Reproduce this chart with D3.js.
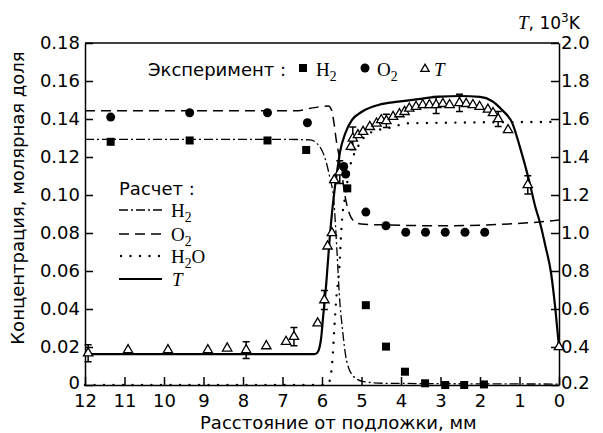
<!DOCTYPE html>
<html><head><meta charset="utf-8">
<script src="https://cdn.jsdelivr.net/npm/d3@7"></script>
<style>body{margin:0;background:#fff}svg{display:block}</style>
</head><body>
<svg id="c" width="603" height="433"></svg>
<script>
// ---- data ----
const xTicks = [12,11,10,9,8,7,6,5,4,3,2,1,0];
const yTicks = [0,0.02,0.04,0.06,0.08,0.10,0.12,0.14,0.16,0.18];
const yTickLabels = ["0","0.02","0.04","0.06","0.08","0.10","0.12","0.14","0.16","0.18"];
const tTicks = [0.2,0.4,0.6,0.8,1.0,1.2,1.4,1.6,1.8,2.0];
const tTickLabels = ["0.2","0.4","0.6","0.8","1.0","1.2","1.4","1.6","1.8","2.0"];

// calculated curves [mm, value]
const calcH2 = [[12,0.1293],[7.0,0.1293],[6.3,0.129],[6.1,0.1265],[5.95,0.121],[5.8,0.109],[5.7,0.097],[5.62,0.07],[5.56,0.047],[5.48,0.029],[5.38,0.013],[5.2,0.0045],[4.95,0.0018],[4.4,0.0009],[0,0.0005]];
const calcO2 = [[12,0.1444],[6.6,0.1444],[6.3,0.1456],[6.0,0.1466],[5.84,0.1468],[5.76,0.1448],[5.69,0.137],[5.64,0.129],[5.58,0.122],[5.52,0.115],[5.43,0.101],[5.31,0.0904],[5.18,0.086],[5.01,0.0847],[4.5,0.0843],[3.0,0.0838],[1.5,0.0845],[0.5,0.0858],[0,0.0868]];
const calcH2O = [[12,0],[5.9,0],[5.81,0.002],[5.73,0.015],[5.69,0.029],[5.64,0.045],[5.56,0.062],[5.52,0.078],[5.48,0.09],[5.43,0.097],[5.3,0.114],[5.1,0.125],[4.8,0.1325],[4.17,0.136],[3.88,0.1377],[3.0,0.138],[0,0.1385]];
const calcT = [[12,0.362],[6.2,0.362],[6.12,0.37],[6.06,0.40],[6.02,0.45],[5.98,0.54],[5.89,0.74],[5.81,0.96],[5.73,1.14],[5.68,1.23],[5.6,1.35],[5.54,1.43],[5.41,1.525],[5.24,1.595],[4.99,1.638],[4.57,1.674],[4.07,1.691],[3.56,1.705],[3.0,1.718],[2.5,1.721],[2.0,1.716],[1.7,1.695],[1.44,1.647],[1.18,1.577],[1.0,1.46],[0.76,1.279],[0.59,1.13],[0.5,1.068],[0.34,0.928],[0.2,0.788],[0.09,0.595],[0,0.4]];

// experiment [mm, value] / [mm, T, err]
const expH2 = [[11.35,0.128],[9.35,0.1287],[7.38,0.1287],[6.40,0.1237],[5.36,0.1035],[4.89,0.042],[4.38,0.0202],[3.90,0.007],[3.39,0.0009],[2.88,0],[2.40,0],[1.90,0.0003]];
const expO2 = [[11.35,0.141],[9.35,0.1433],[7.38,0.1433],[6.37,0.138],[5.45,0.115],[5.40,0.111],[4.89,0.091],[4.38,0.0838],[3.88,0.0804],[3.38,0.0804],[2.88,0.0804],[2.38,0.0804],[1.88,0.0804]];
const expT = [[11.92,0.367,0.045],[10.91,0.384,0],[9.90,0.384,0],[8.89,0.384,0],[8.40,0.393,0],[7.92,0.384,0.044],[7.41,0.405,0],[6.91,0.428,0],[6.71,0.454,0.048],[6.11,0.525,0],[5.94,0.647,0.05],[5.86,0.93,0],[5.75,1.0,0],[5.69,1.279,0],[5.55,1.32,0.06],[5.27,1.454,0],[5.22,1.498,0.06],[5.09,1.516,0],[4.96,1.533,0],[4.79,1.559,0],[4.62,1.577,0],[4.50,1.595,0],[4.37,1.59,0.035],[4.20,1.612,0],[4.04,1.626,0],[3.91,1.638,0],[3.79,1.656,0],[3.62,1.665,0],[3.45,1.674,0],[3.28,1.674,0],[3.11,1.674,0.045],[2.94,1.68,0],[2.77,1.674,0],[2.52,1.685,0.045],[2.35,1.68,0],[2.18,1.674,0],[2.01,1.665,0],[1.80,1.65,0],[1.67,1.632,0],[1.54,1.6,0.04],[1.29,1.542,0],[0.79,1.253,0.048],[0.0,0.4,0]];

// ---- drawing ----
const svg = d3.select("#c");
const L=85, R=559, T0=43, B=385;
const x = d3.scaleLinear().domain([12,0]).range([L,R]);
const y = d3.scaleLinear().domain([0,0.18]).range([B,T0]);
const yT = d3.scaleLinear().domain([0.2,2.0]).range([B,T0]);
const sans = "DejaVu Sans, Verdana, sans-serif";
const serif = "Liberation Serif, Times New Roman, serif";

// frame top line
svg.append("line").attr("x1",L).attr("x2",R).attr("y1",T0).attr("y2",T0).attr("stroke","#000").attr("stroke-width",1.5);

function styleAxis(g){
  g.select(".domain").attr("stroke-width",1.5);
  g.selectAll(".tick line").attr("stroke-width",1.5);
  g.selectAll(".tick text").attr("font-family",sans).attr("font-size",18).attr("fill","#000");
}
const gx = svg.append("g").attr("transform",`translate(0,${B})`)
  .call(d3.axisBottom(x).tickValues(xTicks).tickSizeInner(-8).tickSizeOuter(0).tickPadding(9).tickFormat(d3.format("d")));
styleAxis(gx);
const gy = svg.append("g").attr("transform",`translate(${L},0)`)
  .call(d3.axisLeft(y).tickValues(yTicks).tickSizeInner(-8).tickSizeOuter(0).tickPadding(5).tickFormat((d,i)=>yTickLabels[i]));
styleAxis(gy);
gy.selectAll(".tick text").filter(d=>d===0).attr("dy","0.2em");
const gr = svg.append("g").attr("transform",`translate(${R},0)`)
  .call(d3.axisRight(yT).tickValues(tTicks).tickSizeInner(-8).tickSizeOuter(0).tickPadding(3).tickFormat((d,i)=>tTickLabels[i]));
styleAxis(gr);
gr.selectAll(".tick text").attr("x",2);
gr.selectAll(".tick text").filter(d=>Math.abs(d-0.2)<1e-9).attr("dy","0.2em");

// curves
const lineC = d3.line().x(d=>x(d[0])).y(d=>y(d[1])).curve(d3.curveMonotoneX);
const lineT = d3.line().x(d=>x(d[0])).y(d=>yT(d[1])).curve(d3.curveMonotoneX);
svg.append("path").attr("d",lineC(calcH2)).attr("fill","none").attr("stroke","#000").attr("stroke-width",1.3).attr("stroke-dasharray","9,3,2,3");
svg.append("path").attr("d",lineC(calcO2)).attr("fill","none").attr("stroke","#000").attr("stroke-width",1.5).attr("stroke-dasharray","10,6");
svg.append("path").attr("d",lineC(calcH2O)).attr("fill","none").attr("stroke","#000").attr("stroke-width",2.4).attr("stroke-linecap","round").attr("stroke-dasharray","0,9.5");
svg.append("path").attr("d",lineT(calcT)).attr("fill","none").attr("stroke","#000").attr("stroke-width",2.2);

// experiment markers
const tri = d3.symbol().type(d3.symbolTriangle).size(38);
svg.append("g").selectAll("path.e").data(expT.filter(d=>d[2]>0)).join("path")
  .attr("d",d=>{const xx=x(d[0]),a=yT(d[1]+d[2]),b=yT(d[1]-d[2]);return `M${xx},${a}V${b}M${xx-3.5},${a}H${xx+3.5}M${xx-3.5},${b}H${xx+3.5}`;})
  .attr("stroke","#000").attr("stroke-width",1.5).attr("fill","none");
svg.append("g").selectAll("path").data(expT).join("path")
  .attr("d",tri).attr("transform",d=>`translate(${x(d[0])},${yT(d[1])})`)
  .attr("fill","#fff").attr("stroke","#000").attr("stroke-width",1.3);
svg.append("g").selectAll("rect").data(expH2).join("rect")
  .attr("x",d=>x(d[0])-4).attr("y",d=>y(d[1])-4).attr("width",8).attr("height",8).attr("fill","#000");
svg.append("g").selectAll("circle").data(expO2).join("circle")
  .attr("cx",d=>x(d[0])).attr("cy",d=>y(d[1])).attr("r",4.5).attr("fill","#000");

// experiment legend
svg.append("text").attr("x",148).attr("y",76).attr("font-family",sans).attr("font-size",18).text("Эксперимент :");
svg.append("rect").attr("x",299).attr("y",64).attr("width",8).attr("height",8).attr("fill","#000");
function chem(xp,yp,a,sub,tail,fs){
  const t=svg.append("text").attr("x",xp).attr("y",yp).attr("font-family",serif).attr("font-size",fs||19);
  t.append("tspan").text(a);
  t.append("tspan").attr("dy",5).attr("font-size",(fs||19)*0.72).text(sub);
  if(tail) t.append("tspan").attr("dy",-5).text(tail);
}
chem(316,76,"H","2");
svg.append("circle").attr("cx",365).attr("cy",68).attr("r",4.5).attr("fill","#000");
chem(377,76,"O","2");
svg.append("path").attr("d",tri.size(30)()).attr("transform","translate(425,69)").attr("fill","#fff").attr("stroke","#000").attr("stroke-width",1.3);
svg.append("text").attr("x",434).attr("y",76).attr("font-family",serif).attr("font-style","italic").attr("font-size",19).text("T");

// calc legend
svg.append("text").attr("x",119).attr("y",195).attr("font-family",sans).attr("font-size",18).text("Расчет :");
const legY=[210,234,256,279];
const legStyles=[{d:"9,3,2,3",w:1.3},{d:"10,6",w:1.5},{d:"0,9.5",w:2.4,cap:"round"},{d:null,w:2.2}];
legY.forEach((yy,i)=>{
  const l=svg.append("line").attr("x1",i==2?121:119).attr("x2",162).attr("y1",yy).attr("y2",yy).attr("stroke","#000").attr("stroke-width",legStyles[i].w);
  if(legStyles[i].d) l.attr("stroke-dasharray",legStyles[i].d);
  if(legStyles[i].cap) l.attr("stroke-linecap",legStyles[i].cap);
});
chem(171,217,"H","2");
chem(171,241,"O","2");
chem(171,263,"H","2","O");
svg.append("text").attr("x",172).attr("y",286).attr("font-family",serif).attr("font-style","italic").attr("font-size",19).text("T");

// axis titles
svg.append("text").attr("x",200).attr("y",429).attr("font-family",sans).attr("font-size",18).text("Расстояние от подложки, мм");
svg.append("text").attr("transform","translate(24,198) rotate(-90)").attr("text-anchor","middle").attr("font-family",sans).attr("font-size",18).text("Концентрация, молярная доля");
const tt=svg.append("text").attr("x",518).attr("y",29).attr("font-family",serif).attr("font-size",19);
tt.append("tspan").attr("font-style","italic").text("T");
tt.append("tspan").attr("font-family",sans).attr("font-size",17).text(", 10");
tt.append("tspan").attr("font-family",sans).attr("font-size",12).attr("dy",-7).text("3");
tt.append("tspan").attr("font-family",sans).attr("font-size",17).attr("dy",7).text("K");
</script>
</body></html>
